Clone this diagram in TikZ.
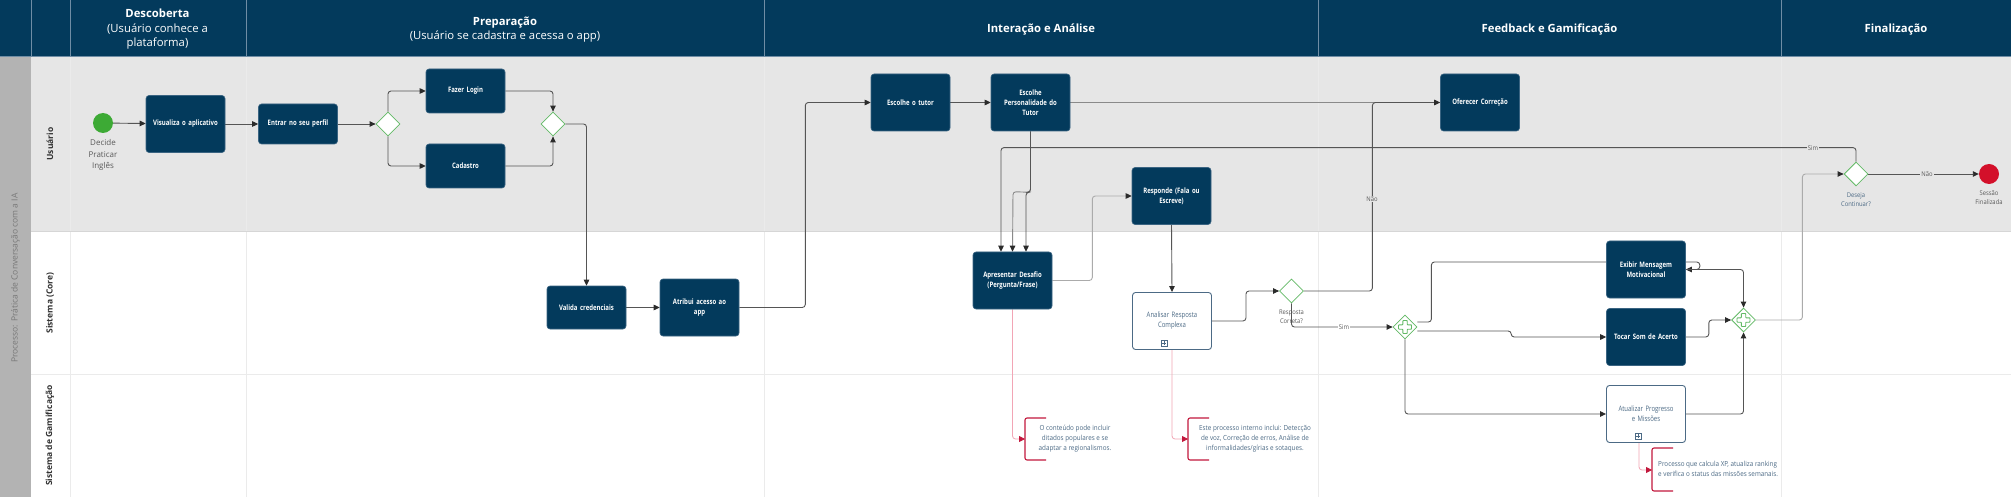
\documentclass[tikz,border=0pt]{standalone}
\usepackage{fontspec}
\setmainfont{Open Sans}
\newfontfamily\boxfont[FakeStretch=0.8]{Open Sans}
\newfontfamily\annfont[FakeStretch=0.9]{Open Sans}
\usetikzlibrary{arrows.meta,calc,shapes.geometric}
\pgfdeclarelayer{lanes}
\pgfdeclarelayer{edges}
\pgfsetlayers{lanes,edges,main}
\definecolor{navy}{HTML}{033A5C}
\definecolor{navyborder}{HTML}{3A6482}
\definecolor{hdrline}{HTML}{6F8DA5}
\definecolor{lanegray}{HTML}{E6E6E6}
\definecolor{stripgray}{HTML}{B3B3B3}
\definecolor{striptext}{HTML}{787878}
\definecolor{colline}{HTML}{EBEBEB}
\definecolor{lanediv}{HTML}{D6D6D6}
\definecolor{gwgreen}{HTML}{62B965}
\definecolor{startgreen}{HTML}{3DAA35}
\definecolor{endred}{HTML}{D3102A}
\definecolor{conn}{HTML}{555555}
\definecolor{connmid}{HTML}{8A8A8A}
\definecolor{connlight}{HTML}{ABABAB}
\definecolor{arrowc}{HTML}{2B2B2B}
\definecolor{annred}{HTML}{C2183D}
\definecolor{assoc}{HTML}{F2A5B5}
\definecolor{subtext}{HTML}{4C6A85}
\definecolor{labeltext}{HTML}{5A5A5A}
\tikzset{
  task/.style={rectangle, rounded corners=3pt, fill=navy, draw=navyborder, line width=0.6pt,
    minimum width=79pt, minimum height=57pt, text width=72pt, align=center, inner sep=0pt,
    text=white, font=\boxfont\bfseries\fontsize{7.5}{10}\selectfont},
  subproc/.style={task, fill=white, draw=subtext, line width=0.9pt, text=subtext,
    font=\boxfont\fontsize{7.5}{10}\selectfont},
  gateway/.style={diamond, aspect=1, draw=gwgreen, fill=white, line width=0.8pt,
    minimum width=24pt, minimum height=24pt, inner sep=0pt},
  conn/.style={draw=conn, line width=0.9pt, rounded corners=3pt,
    -{Triangle[length=6pt,width=5.5pt,color=arrowc]}},
  connmidst/.style={conn, draw=connmid},
  connlightst/.style={conn, draw=connlight},
  assocline/.style={draw=assoc, line width=0.8pt, rounded corners=3pt,
    -{Triangle[length=6pt,width=6pt,color=annred]}},
  bracket/.style={draw=annred, line width=1.1pt, rounded corners=2pt},
  anntext/.style={font=\annfont\fontsize{7}{10}\selectfont, text=subtext, align=center, inner sep=0pt},
  elabel/.style={font=\annfont\fontsize{6.5}{8}\selectfont, text=labeltext, fill=lanegray, inner sep=1pt},
  evlabel/.style={font=\annfont\fontsize{6.5}{9}\selectfont, text=labeltext, align=center, inner sep=0pt},
  hdr/.style={text=white, font=\fontsize{11.3}{14.5}\selectfont, align=center, inner sep=0pt},
  lanelabel/.style={rotate=90, text=black!80, font=\bfseries\fontsize{8.5}{10}\selectfont},
  marker/.style={draw=subtext, line width=0.6pt}
}
\begin{document}
\begin{tikzpicture}[x=1pt,y=-1pt]
\useasboundingbox (0,0) rectangle (2011,497);
\begin{pgfonlayer}{lanes}
  \fill[lanegray] (31,56) rectangle (2011,232);
  \fill[white] (31,232) rectangle (2011,497);
  \fill[stripgray] (0,56) rectangle (31,497);
  \foreach \x in {70,246,764,1318,1781} \draw[colline, line width=0.8pt] (\x,56) -- (\x,497);
  \draw[lanediv, line width=1pt] (31,232) -- (2011,232);
  \draw[colline, line width=0.8pt] (31,374) -- (2011,374);
  \fill[navy] (0,0) rectangle (2011,56);
  \foreach \x in {31,70,246,764,1318,1781} \draw[hdrline, line width=0.8pt] (\x,0) -- (\x,56);
  \draw[hdrline, line width=0.8pt] (0,56) -- (2011,56);
\end{pgfonlayer}

% header texts
\node[hdr] (h1) at (157.5,29.5) {\bfseries Descoberta\\(Usuário conhece a\\plataforma)};
\node[hdr] (h2) at (505,29.5) {\bfseries Preparação\\(Usuário se cadastra e acessa o app)};
\node[hdr] (h3) at (1041,30) {\bfseries Interação e Análise};
\node[hdr] (h4) at (1549.5,30) {\bfseries Feedback e Gamificação};
\node[hdr] (h5) at (1896,30) {\bfseries Finalização};

% pool and lane labels
\node[rotate=90, text=striptext, font=\fontsize{8.5}{10}\selectfont] (pool) at (15.5,278) {Processo: Prática de Conversação com a IA};
\node[lanelabel] (l1) at (50,144) {Usuário};
\node[lanelabel] (l2) at (50,303) {Sistema (Core)};
\node[lanelabel] (l3) at (50,435.5) {Sistema de Gamificação};

% nodes
\node[circle, fill=startgreen, minimum size=20pt, inner sep=0pt] (start) at (103,123) {};
\node[font=\fontsize{8}{11.5}\selectfont, text=labeltext, align=center, inner sep=0pt] (startlbl) at (103,155) {Decide\\Praticar\\Inglês};
\node[task] (vis) at (185.5,124) {Visualiza o aplicativo};
\node[task, minimum height=40pt] (entrar) at (298,124) {Entrar no seu perfil};
\node[gateway] (gw1) at (388,124) {};
\node[task, minimum height=44pt] (login) at (465.5,91) {Fazer Login};
\node[task, minimum height=44pt] (cad) at (465.5,166) {Cadastro};
\node[gateway] (gw2) at (553,124) {};
\node[task, minimum height=43pt] (valida) at (586.5,307.5) {Valida credenciais};
\node[task] (atribui) at (699.5,307.5) {Atribui acesso ao\\app};
\node[task] (tutor) at (910.5,102.5) {Escolhe o tutor};
\node[task] (pers) at (1030.5,102.5) {Escolhe\\Personalidade do\\Tutor};
\node[task] (apres) at (1012.5,280.5) {Apresentar Desafio\\(Pergunta/Frase)};
\node[task] (resp) at (1171.5,196) {Responde (Fala ou\\Escreve)};
\node[subproc] (anal) at (1172,321) {Analisar Resposta\\Complexa};
\node[gateway] (gw3) at (1291.5,291) {};
\node[evlabel] (gw3lbl) at (1291.5,317) {Resposta\\Correta?};
\node[task] (ofer) at (1480,102.5) {Oferecer Correção};
\node[gateway] (fork) at (1405,327) {};
\node[task] (exib) at (1646,269.5) {Exibir Mensagem\\Motivacional};
\node[task] (tocar) at (1646,337) {Tocar Som de Acerto};
\node[subproc] (atual) at (1646,414) {Atualizar Progresso\\e Missões};
\node[gateway] (join) at (1743.5,320) {};
\node[gateway] (deseja) at (1856,174) {};
\node[evlabel, text=subtext] (desejalbl) at (1856,199.5) {Deseja\\Continuar?};
\node[circle, fill=endred, minimum size=20pt, inner sep=0pt] (endc) at (1989,174) {};
\node[evlabel] (endlbl) at (1989,197.5) {Sessão\\Finalizada};

% parallel markers
\foreach \g in {fork,join}
  \draw[gwgreen, line width=0.9pt, rounded corners=0.6pt, shift={(\g.center)}]
    (-2.2,-6.5) -- (2.2,-6.5) -- (2.2,-2.2) -- (6.5,-2.2) -- (6.5,2.2) -- (2.2,2.2) -- (2.2,6.5)
    -- (-2.2,6.5) -- (-2.2,2.2) -- (-6.5,2.2) -- (-6.5,-2.2) -- (-2.2,-2.2) -- cycle;
% subprocess markers
\draw[marker, shift={($(anal.south)+(-8,-7)$)}] (-3,-3) rectangle (3,3) (-1.8,0) -- (1.8,0) (0,-1.8) -- (0,1.8);
\draw[marker, shift={($(atual.south)+(-8,-7)$)}] (-3,-3) rectangle (3,3) (-1.8,0) -- (1.8,0) (0,-1.8) -- (0,1.8);

% annotations
\coordinate (b1) at (1025,439);
\coordinate (b2) at (1188,439);
\coordinate (b3) at (1652,470);
\draw[bracket] ($(b1)+(21,-21)$) -- ($(b1)+(0,-21)$) -- ($(b1)+(0,21)$) -- ($(b1)+(21,21)$);
\draw[bracket] ($(b2)+(21,-21)$) -- ($(b2)+(0,-21)$) -- ($(b2)+(0,21)$) -- ($(b2)+(21,21)$);
\draw[bracket] ($(b3)+(21,-22)$) -- ($(b3)+(0,-22)$) -- ($(b3)+(0,21)$) -- ($(b3)+(21,21)$);
\node[anntext] (a1) at (1075,439) {O conteúdo pode incluir\\ditados populares e se\\adaptar a regionalismos.};
\node[anntext] (a2) at (1255,439) {Este processo interno inclui: Detecção\\de voz, Correção de erros, Análise de\\informalidades/gírias e sotaques.};
\node[anntext, align=left, anchor=west] (a3) at (1658,469) {Processo que calcula XP, atualiza ranking\\e verifica o status das missões semanais.};

% connectors
\begin{pgfonlayer}{edges}
  \draw[conn] (start) -- (vis);
  \draw[conn] (vis) -- (entrar);
  \draw[conn] (entrar) -- (gw1);
  \draw[conn] (gw1.north) |- (login.west);
  \draw[conn] (gw1.south) |- (cad.west);
  \draw[conn] (login.east) -| (gw2.north);
  \draw[conn] (cad.east) -| (gw2.south);
  \draw[conn] (gw2.east) -| (valida.north);
  \draw[conn] (valida) -- (atribui);
  \draw[conn] (atribui.east) -- ++(66,0) |- (tutor.west);
  \draw[conn] (tutor) -- (pers);
  \draw[connmidst] (ofer.west) -| ($(pers.south)+(0,61)$) -- ($(apres.north)+(0.5,-60)$) -- (apres.north);
  \draw[conn] (pers.south) -- ++(0,61) -- ++(-4.5,0) -- ($(apres.north)+(13.5,0)$);
  \draw[conn] (deseja.north) -- ++(0,-14) -| ($(apres.north)+(-11.5,0)$);
  \draw[connlightst] (apres.east) -- ++(40,0) |- (resp.west);
  \draw[conn] (resp.south) -- (anal.north);
  \draw[conn] (anal.east) -- ++(34,0) |- (gw3.west);
  \draw[conn] (gw3.east) -- ++(68.5,0) |- (ofer.west);
  \draw[conn] (gw3.south) |- (fork.west);
  \draw[conn] ($(fork.east)+(0,-5)$) -- ++(14,0) |- ($(exib.east)+(14,-7.5)$) -- ($(exib.east)+(14,0)$) -- (exib.east);
  \draw[conn] ($(fork.east)+(0,4)$) -| ($(tocar.west)+(-95,0)$) -- (tocar.west);
  \draw[conn] (fork.south) |- (atual.west);
  \draw[conn] (exib.east) -| (join.north);
  \draw[conn] (tocar.east) -- ++(23,0) |- (join.west);
  \draw[conn] (atual.east) -| (join.south);
  \draw[connlightst] (join.east) -- ++(46.5,0) |- (deseja.west);
  \draw[conn] (deseja.east) -- (endc);
  \draw[assocline] (apres.south) |- (b1);
  \draw[assocline] (anal.south) |- (b2);
  \draw[assocline] ($(atual.south)+(-7,0)$) |- (b3);
\end{pgfonlayer}

% edge labels
\node[elabel] (lnao1) at (1372,199) {Não};
\node[elabel, fill=white] (lsim1) at (1344,327) {Sim};
\node[elabel] (lsim2) at (1813,148) {Sim};
\node[elabel] (lnao2) at (1927,174) {Não};
\end{tikzpicture}
\end{document}
